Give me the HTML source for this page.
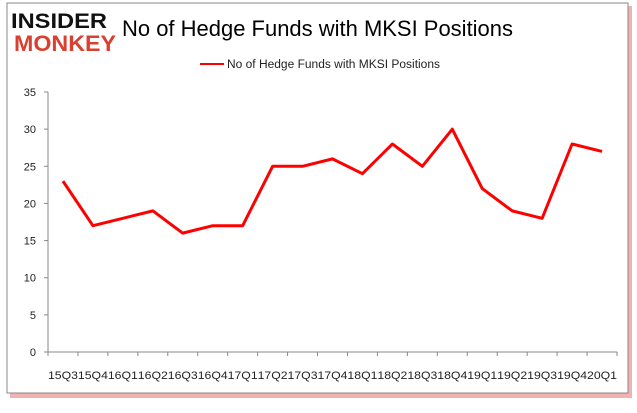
<!DOCTYPE html>
<html><head><meta charset="utf-8"><style>
body{margin:0;background:#fff;width:637px;height:408px;overflow:hidden;font-family:"Liberation Sans",sans-serif}
</style></head><body>
<svg width="637" height="408">
<rect x="10" y="6" width="622" height="392" fill="#e02020" opacity="0.35"/>
<rect x="7" y="3" width="621" height="390" fill="#fff" stroke="#888"/>
<text x="11" y="28" font-size="21" font-weight="bold" fill="#111" textLength="96" lengthAdjust="spacingAndGlyphs">INSIDER</text>
<text x="14" y="51" font-size="22" font-weight="bold" fill="#d94030" textLength="102" lengthAdjust="spacingAndGlyphs">MONKEY</text>
<text x="122" y="36" font-size="22" fill="#000" textLength="391" lengthAdjust="spacingAndGlyphs">No of Hedge Funds with MKSI Positions</text>
<line x1="200" y1="64" x2="224" y2="64" stroke="#f00" stroke-width="2"/>
<text x="227" y="68" font-size="11.5" fill="#222" textLength="213" lengthAdjust="spacingAndGlyphs">No of Hedge Funds with MKSI Positions</text>
<g id="axes"></g>
<polyline id="line" fill="none" stroke="#f00" stroke-width="3" stroke-linejoin="round"/>
</svg>
<script>
const categories=["15Q3","15Q4","16Q1","16Q2","16Q3","16Q4","17Q1","17Q2","17Q3","17Q4","18Q1","18Q2","18Q3","18Q4","19Q1","19Q2","19Q3","19Q4","20Q1"];
const values=[23,17,18,19,16,17,17,25,25,26,24,28,25,30,22,19,18,28,27];
const yTicks=[0,5,10,15,20,25,30,35];
const L=48,R=617,T=92,B=352,ymax=35;
const xs=i=>L+(i+0.5)*(R-L)/categories.length;
const ys=v=>B-v/ymax*(B-T);
const ns="http://www.w3.org/2000/svg",g=document.getElementById('axes');
function mk(t,a){const e=document.createElementNS(ns,t);for(const k in a)e.setAttribute(k,a[k]);g.appendChild(e);return e;}
const ya=mk('line',{x1:L,y1:T,x2:L,y2:B,stroke:'#888'});


const xa=mk('line',{x1:L,y1:B,x2:R,y2:B,stroke:'#888'});


yTicks.forEach(v=>{const y=ys(v);
const tk=mk('line',{x1:L-4,y1:y,x2:L,y2:y,stroke:'#888'});


const t=mk('text',{x:L-12,y:y+4,'font-size':11,'text-anchor':'end',fill:'#222'});t.textContent=v;

});
categories.forEach((c,i)=>{const x=L+i*(R-L)/categories.length;
const tk=mk('line',{x1:x,y1:B,x2:x,y2:B+4,stroke:'#888'});


const t=mk('text',{x:xs(i),y:379,'font-size':11,'text-anchor':'middle',fill:'#222',textLength:30,lengthAdjust:'spacingAndGlyphs'});t.textContent=c;

});
const last=mk('line',{x1:R,y1:B,x2:R,y2:B+4,stroke:'#888'});


document.getElementById('line').setAttribute('points',values.map((v,i)=>xs(i)+','+ys(v)).join(' '));
</script>
</body></html>
